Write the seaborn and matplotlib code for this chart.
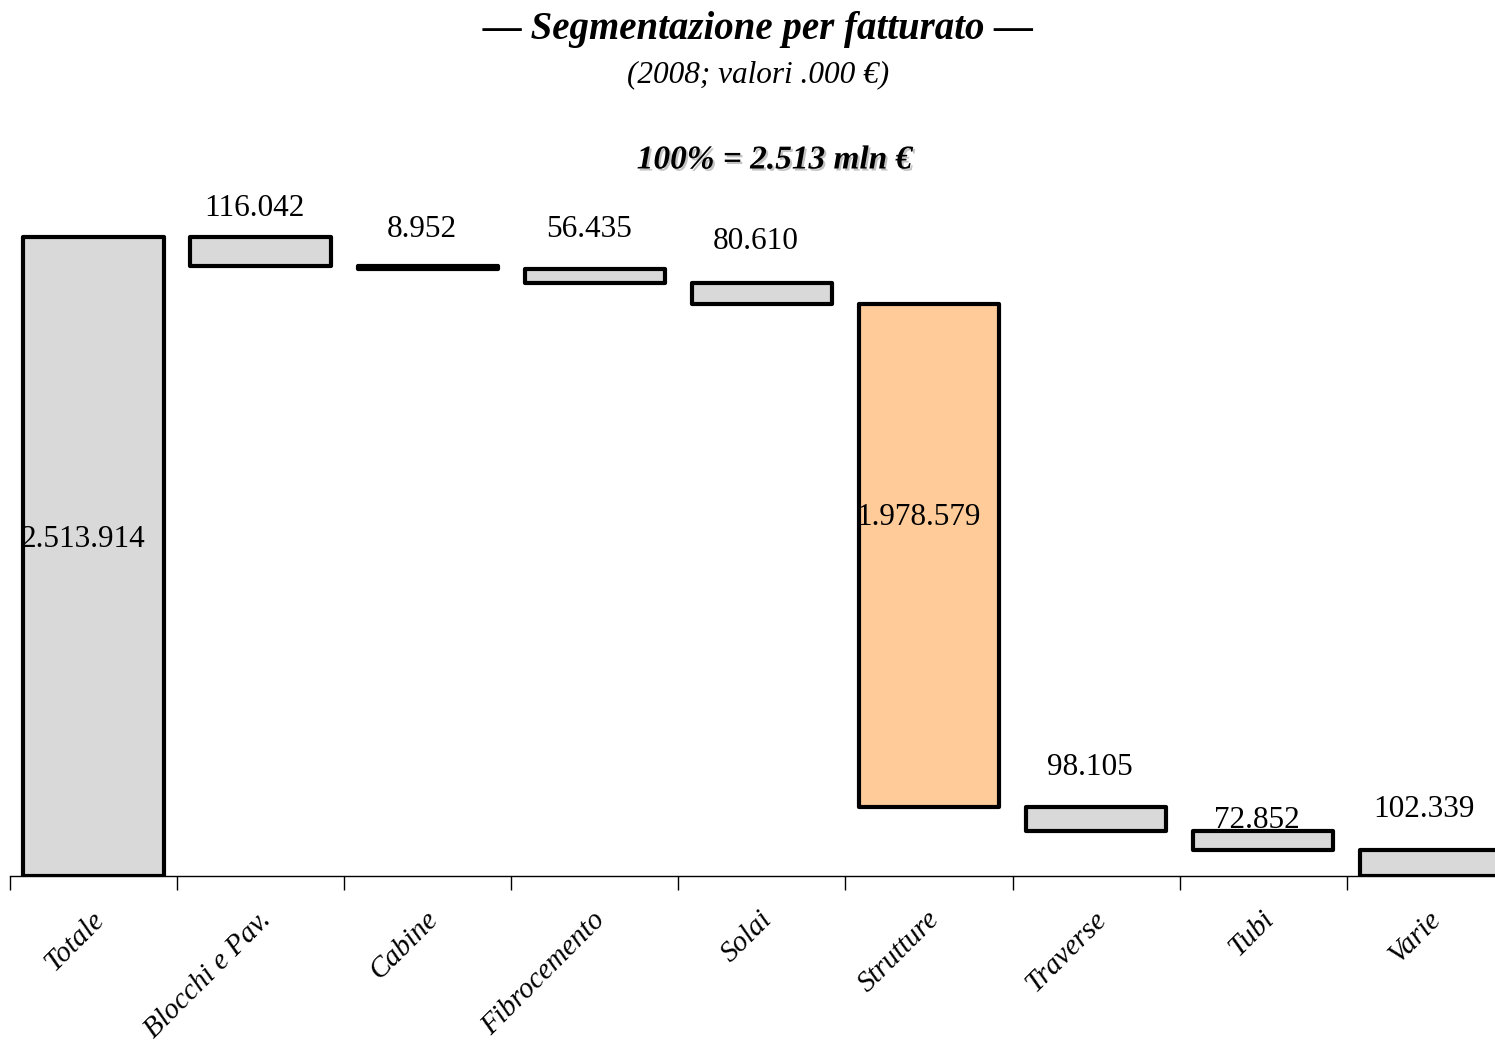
import numpy as np
import pandas as pd
import matplotlib
matplotlib.use('Agg')
import matplotlib.pyplot as plt
import matplotlib.patheffects as pe
from matplotlib.transforms import ScaledTranslation
import seaborn as sns

#%% data (valori .000 €)
categories  = ['Totale', 'Blocchi e Pav.', 'Cabine', 'Fibrocemento', 'Solai',
               'Strutture', 'Traverse', 'Tubi', 'Varie']
values      = [2513914, 116042, 8952, 56435, 80610, 1978579, 98105, 72852, 102339]
value_text  = ['2.513.914', '116.042', '8.952', '56.435', '80.610',
               '1.978.579', '98.105', '72.852', '102.339']
bar_colors  = ['#D9D9D9', '#D9D9D9', '#D9D9D9', '#D9D9D9', '#D9D9D9',
               '#FFCC99', '#D9D9D9', '#D9D9D9', '#D9D9D9']

# waterfall: segments hang down from running total
tops    = [values[0]]
bottoms = [0]
running = values[0]
for v in values[1:]:
    tops.append(running)
    running = running - v
    bottoms.append(running)
heights = [t - b for t, b in zip(tops, bottoms)]

df = pd.DataFrame({'cat': categories, 'height': heights, 'bottom': bottoms})

#%% figure
sns.set_style('white')
plt.rcParams['font.family'] = ['Liberation Serif', 'DejaVu Serif']
plt.rcParams['text.color'] = 'black'
plt.rcParams['xtick.color'] = 'black'

W, H, dpi = 1495, 1051, 100
fig = plt.figure(figsize=(W / dpi, H / dpi), dpi=dpi)

x0_px, base_px, cat_px, top_px = 10, 876, 167.1, 180
ax = fig.add_axes([x0_px / W, (H - base_px) / H, 9 * cat_px / W, (base_px - top_px) / H])

px_per_unit = 639 / values[0]
ymax = (base_px - top_px) / px_per_unit

sns.barplot(data=df, x='cat', y='height', bottom=df['bottom'], order=categories,
            errorbar=None, width=0.84, ax=ax, color='#D9D9D9')
for p, c in zip(ax.patches, bar_colors):
    p.set_facecolor(c)
    p.set_edgecolor('black')
    p.set_linewidth(3)
    p.set_joinstyle('round')

ax.set_xlim(-0.5, 8.5)
ax.set_ylim(0, ymax)
ax.set_xlabel('')
ax.set_ylabel('')
ax.set_yticks([])
for s in ['top', 'right', 'left']:
    ax.spines[s].set_visible(False)
ax.spines['bottom'].set_color('black')
ax.spines['bottom'].set_linewidth(1)

# ticks at category borders, labels at category centers
ax.set_xticks(np.arange(-0.5, 9.0, 1.0), minor=True)
ax.tick_params(axis='x', which='minor', bottom=True, length=10, width=1, color='black', direction='out')
ax.tick_params(axis='x', which='major', bottom=True, length=0, pad=22)
ax.set_xticks(range(len(categories)))
ax.set_xticklabels(categories, rotation=45, ha='right', va='top', rotation_mode='anchor',
                   fontsize=21, style='italic', color='black')
for lab in ax.get_xticklabels():
    lab.set_transform(lab.get_transform() + ScaledTranslation(-3 / dpi, 0, fig.dpi_scale_trans))

# value labels
lab_off_px  = [None, 28, 37, 39, 42, None, 39, 11, 40]
inside_frac = {0: 0.526, 5: 0.574}
shift = ScaledTranslation(-6 / dpi, 0, fig.dpi_scale_trans)
for i, txt in enumerate(value_text):
    if i in inside_frac:
        y = bottoms[i] + inside_frac[i] * heights[i]
        tr = ax.transData + ScaledTranslation(-11 / dpi, 0, fig.dpi_scale_trans)
    else:
        y = tops[i] + lab_off_px[i] / px_per_unit
        tr = ax.transData + shift
    ax.text(i, y, txt, ha='center', va='center', fontsize=22.5, transform=tr, color='black')

#%% titles
fig.text(758 / W, 1 - 30 / H, '\u2014 Segmentazione per fatturato \u2014', ha='center', va='center',
         fontsize=28, fontweight='bold', style='italic')
fig.text(758 / W, 1 - 75 / H, '(2008; valori .000 \u20ac)', ha='center', va='center',
         fontsize=22.5, style='italic')
fig.text(775 / W, 1 - 160 / H, '100% = 2.513 mln \u20ac', ha='center', va='center',
         fontsize=24, fontweight='bold', style='italic',
         path_effects=[pe.SimplePatchShadow(offset=(1.5, -1.5), shadow_rgbFace='#888888', alpha=0.5),
                       pe.Normal()])

fig.savefig('out.png', dpi=dpi)
